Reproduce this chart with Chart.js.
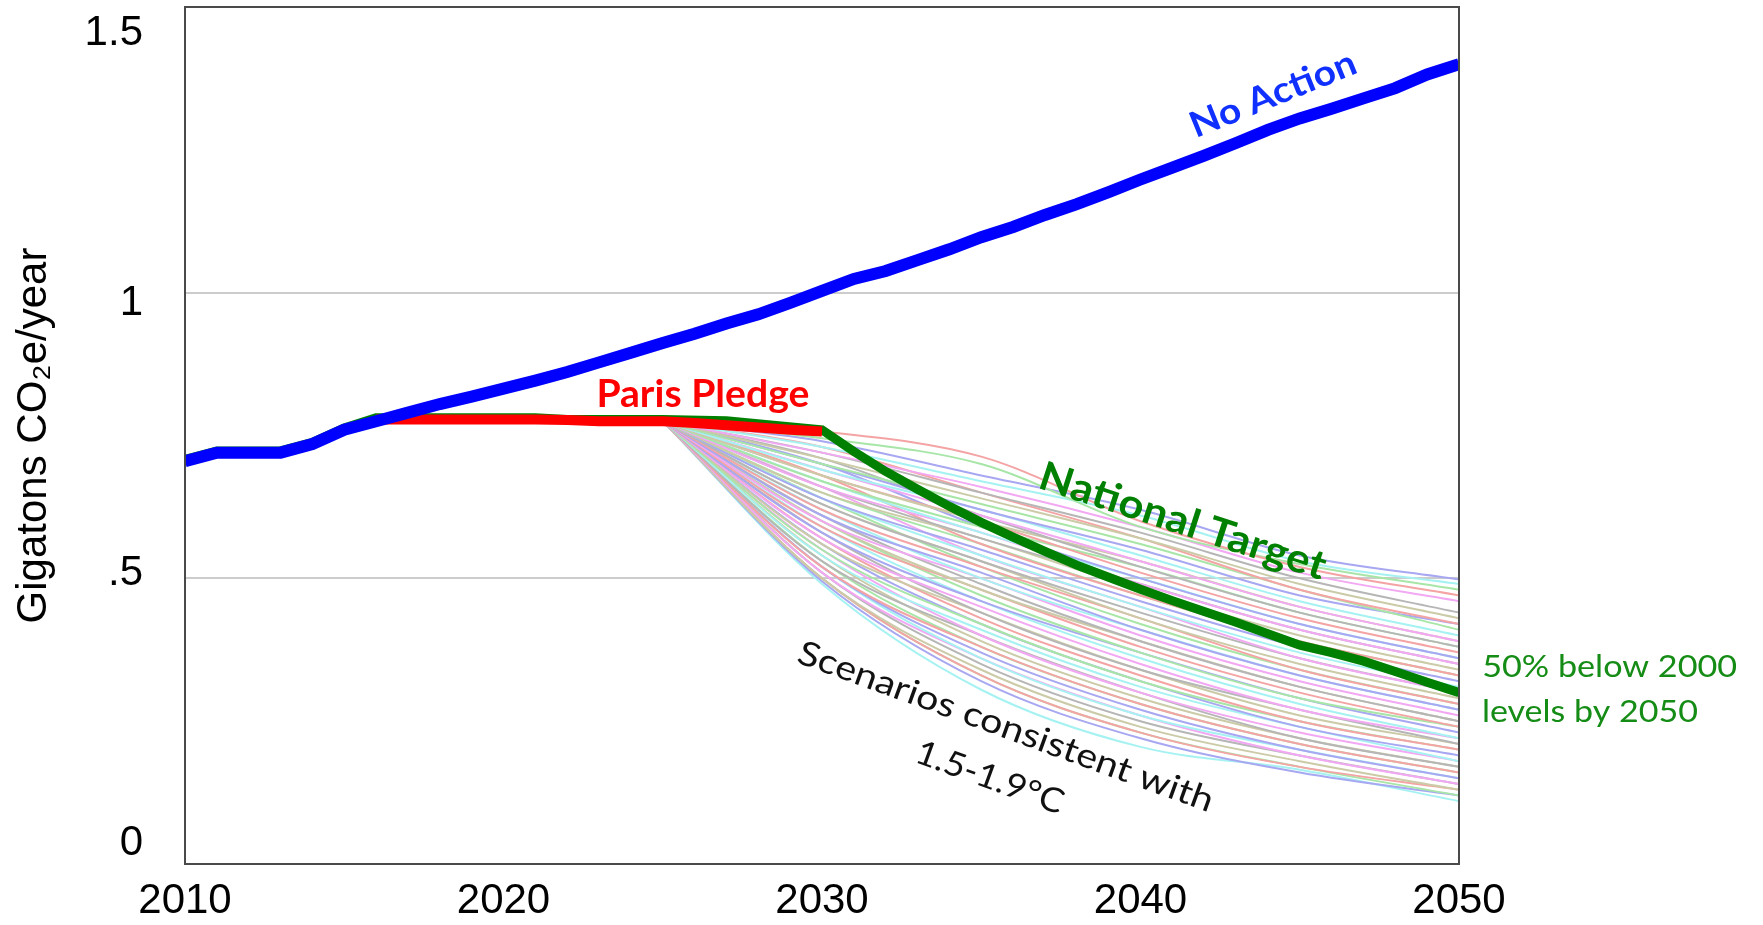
<!DOCTYPE html>
<html>
<head>
<meta charset="utf-8">
<script src="https://cdn.jsdelivr.net/npm/chart.js@4.4.1/dist/chart.umd.min.js"></script>
<style>
  html, body { margin: 0; padding: 0; background: #fff; }
  #chart { display: block; }
</style>
</head>
<body>
<canvas id="chart" width="1763" height="925"></canvas>
<script>
// values (Gt CO2e / year)
const years = [2010, 2011, 2012, 2013, 2014, 2015, 2016, 2017, 2018, 2019,
  2020, 2021, 2022, 2023, 2024, 2025, 2026, 2027, 2028, 2029,
  2030, 2031, 2032, 2033, 2034, 2035, 2036, 2037, 2038, 2039,
  2040, 2041, 2042, 2043, 2044, 2045, 2046, 2047, 2048, 2049, 2050];
const noAction = [0.705, 0.720, 0.720, 0.720, 0.735, 0.760, 0.775, 0.790, 0.805, 0.818,
  0.832, 0.846, 0.861, 0.878, 0.895, 0.912, 0.928, 0.946, 0.962, 0.982,
  1.003, 1.024, 1.038, 1.057, 1.076, 1.097, 1.115, 1.136, 1.155, 1.176,
  1.198, 1.219, 1.240, 1.262, 1.285, 1.305, 1.322, 1.340, 1.358, 1.382, 1.400];

const pledgeYears = [2016, 2017, 2018, 2019, 2020, 2021, 2022, 2023, 2024, 2025, 2026, 2027, 2028, 2029, 2030];
const pledge = [0.778, 0.778, 0.778, 0.778, 0.778, 0.778, 0.777, 0.775, 0.775, 0.775, 0.772, 0.768, 0.764, 0.760, 0.757];

const targetYears = [2010, 2011, 2013, 2014, 2015, 2016, 2021, 2022, 2025, 2027, 2030,
  2031, 2032, 2033, 2034, 2035, 2036, 2037, 2038, 2039, 2040,
  2041, 2042, 2043, 2044, 2045, 2046, 2047, 2048, 2049, 2050];
const target = [0.708, 0.723, 0.723, 0.738, 0.763, 0.781, 0.781, 0.778, 0.778, 0.776, 0.760,
  0.722, 0.687, 0.656, 0.626, 0.598, 0.572, 0.547, 0.523, 0.502, 0.481,
  0.461, 0.442, 0.423, 0.403, 0.383, 0.370, 0.355, 0.337, 0.318, 0.300];

// 1.5-1.9°C scenario bundle
const scenarioYears = [2025, 2030, 2035, 2040, 2045, 2050];
const scenarios = [
  [0.775, 0.757, 0.713, 0.600, 0.520, 0.470],
  [0.775, 0.745, 0.700, 0.590, 0.525, 0.480],
  [0.775, 0.740, 0.680, 0.620, 0.540, 0.498],
  [0.775, 0.730, 0.670, 0.610, 0.530, 0.490],
  [0.775, 0.720, 0.660, 0.590, 0.510, 0.460],
  [0.775, 0.720, 0.650, 0.580, 0.500, 0.440],
  [0.775, 0.710, 0.640, 0.570, 0.490, 0.430],
  [0.775, 0.730, 0.650, 0.570, 0.480, 0.420],
  [0.775, 0.700, 0.630, 0.560, 0.480, 0.410],
  [0.775, 0.700, 0.620, 0.550, 0.470, 0.420],
  [0.775, 0.690, 0.620, 0.540, 0.460, 0.400],
  [0.775, 0.690, 0.610, 0.530, 0.450, 0.390],
  [0.775, 0.710, 0.610, 0.520, 0.440, 0.380],
  [0.775, 0.680, 0.600, 0.530, 0.450, 0.390],
  [0.775, 0.680, 0.600, 0.510, 0.430, 0.370],
  [0.775, 0.670, 0.590, 0.520, 0.440, 0.380],
  [0.775, 0.700, 0.590, 0.500, 0.420, 0.360],
  [0.775, 0.670, 0.580, 0.500, 0.420, 0.360],
  [0.775, 0.660, 0.580, 0.490, 0.410, 0.350],
  [0.775, 0.660, 0.570, 0.490, 0.410, 0.350],
  [0.775, 0.650, 0.570, 0.480, 0.400, 0.340],
  [0.775, 0.680, 0.560, 0.470, 0.390, 0.330],
  [0.775, 0.650, 0.560, 0.470, 0.390, 0.330],
  [0.775, 0.640, 0.550, 0.460, 0.380, 0.320],
  [0.775, 0.640, 0.540, 0.450, 0.370, 0.310],
  [0.775, 0.660, 0.540, 0.450, 0.360, 0.300],
  [0.775, 0.630, 0.530, 0.440, 0.360, 0.300],
  [0.775, 0.630, 0.530, 0.430, 0.350, 0.290],
  [0.775, 0.620, 0.520, 0.430, 0.340, 0.280],
  [0.775, 0.640, 0.520, 0.420, 0.340, 0.280],
  [0.775, 0.610, 0.510, 0.410, 0.330, 0.270],
  [0.775, 0.620, 0.500, 0.410, 0.330, 0.270],
  [0.775, 0.600, 0.500, 0.400, 0.320, 0.260],
  [0.775, 0.610, 0.490, 0.390, 0.310, 0.250],
  [0.775, 0.600, 0.480, 0.390, 0.310, 0.250],
  [0.775, 0.590, 0.480, 0.380, 0.300, 0.240],
  [0.775, 0.600, 0.470, 0.370, 0.290, 0.240],
  [0.775, 0.580, 0.460, 0.370, 0.290, 0.230],
  [0.775, 0.590, 0.460, 0.360, 0.280, 0.220],
  [0.775, 0.570, 0.450, 0.350, 0.270, 0.220],
  [0.775, 0.580, 0.440, 0.340, 0.270, 0.210],
  [0.775, 0.560, 0.440, 0.340, 0.260, 0.210],
  [0.775, 0.570, 0.430, 0.330, 0.250, 0.200],
  [0.775, 0.550, 0.420, 0.320, 0.250, 0.200],
  [0.775, 0.560, 0.420, 0.320, 0.240, 0.190],
  [0.775, 0.540, 0.410, 0.310, 0.240, 0.180],
  [0.775, 0.550, 0.400, 0.300, 0.230, 0.180],
  [0.775, 0.530, 0.400, 0.300, 0.220, 0.170],
  [0.775, 0.540, 0.390, 0.290, 0.220, 0.170],
  [0.775, 0.520, 0.380, 0.280, 0.210, 0.160],
  [0.775, 0.530, 0.380, 0.280, 0.210, 0.160],
  [0.775, 0.520, 0.370, 0.270, 0.200, 0.150],
  [0.775, 0.520, 0.360, 0.260, 0.200, 0.150],
  [0.775, 0.510, 0.360, 0.260, 0.190, 0.140],
  [0.775, 0.510, 0.350, 0.250, 0.190, 0.140],
  [0.775, 0.500, 0.340, 0.240, 0.180, 0.130],
  [0.775, 0.500, 0.330, 0.230, 0.170, 0.130],
  [0.775, 0.500, 0.330, 0.230, 0.170, 0.120],
  [0.775, 0.495, 0.320, 0.220, 0.160, 0.120],
  [0.775, 0.490, 0.305, 0.205, 0.165, 0.110]
];

const yTicks = [0, 0.5, 1, 1.5];
const xTicks = [2010, 2020, 2030, 2040, 2050];

const palette = ['#f4a4a4', '#a8e6a8', '#a8a8f2', '#a6f2f2', '#f2a8f2', '#b6b6b6', '#cbcba8'];
const axisFont = { family: '"Liberation Sans", Arial, sans-serif', size: 42 };

// text notes placed in data coordinates (baseline centre)
const notes = [
  { text: 'No Action', x: 2044.3, y: 1.328, angle: -22, width: 176, font: 'bold 36px Lato', color: '#1030ff' },
  { text: 'Paris Pledge', x: 2026.26, y: 0.800, angle: 0, width: 213, font: 'bold 38px Lato', color: '#ff0000' },
  { text: 'National Target', x: 2041.2, y: 0.578, angle: 18, width: 299, font: 'bold 40px Lato', color: '#008000' },
  { text: 'Scenarios consistent with', x: 2035.65, y: 0.222, angle: 20, width: 440, font: '34px Lato', color: '#111111' },
  { text: '1.5-1.9°C', x: 2035.15, y: 0.133, angle: 20, width: 155, font: '34px Lato', color: '#111111' },
  { text: '50% below 2000', x: 2054.73, y: 0.327, angle: 0, width: 255, font: '31px Lato', color: '#158c15' },
  { text: 'levels by 2050', x: 2054.11, y: 0.2485, angle: 0, width: 216, font: '31px Lato', color: '#158c15' }
];

const pts = (xs, ys) => xs.map((x, i) => ({ x: x, y: ys[i] }));

const datasets = [
  { data: pts(years, noAction), borderColor: '#0000ff', borderWidth: 12 },
  { data: pts(pledgeYears, pledge), borderColor: '#ff0000', borderWidth: 10 },
  { data: pts(targetYears, target), borderColor: '#008000', borderWidth: 9 }
];
scenarios.forEach((row, i) => {
  datasets.push({
    data: pts(scenarioYears, row),
    borderColor: palette[i % palette.length],
    borderWidth: 2,
    cubicInterpolationMode: 'monotone'
  });
});
datasets.forEach(d => { d.pointRadius = 0; d.clip = 0; });

const frameAndNotes = {
  id: 'frameAndNotes',
  afterDatasetsDraw(chart) {
    const { ctx, chartArea: a } = chart;
    ctx.save();
    ctx.strokeStyle = '#4a4a4a';
    ctx.lineWidth = 2;
    ctx.strokeRect(a.left, a.top, a.right - a.left, a.bottom - a.top);
    ctx.restore();
  },
  afterDraw(chart) {
    const { ctx, scales: { x, y } } = chart;
    notes.forEach(n => {
      ctx.save();
      ctx.translate(x.getPixelForValue(n.x), y.getPixelForValue(n.y));
      ctx.rotate(n.angle * Math.PI / 180);
      ctx.font = n.font;
      const w = ctx.measureText(n.text).width;
      ctx.scale(n.width / w, 1);
      ctx.fillStyle = n.color;
      ctx.textAlign = 'center';
      ctx.textBaseline = 'alphabetic';
      ctx.fillText(n.text, 0, 0);
      ctx.restore();
    });
  }
};

new Chart(document.getElementById('chart'), {
  type: 'line',
  data: { datasets: datasets },
  plugins: [frameAndNotes],
  options: {
    responsive: false,
    devicePixelRatio: 1,
    animation: false,
    layout: { padding: { top: 7, right: 304, bottom: 0, left: 0 } },
    plugins: { legend: { display: false }, tooltip: { enabled: false } },
    scales: {
      x: {
        type: 'linear',
        min: 2010,
        max: 2050,
        grid: { display: false, drawTicks: false },
        border: { display: false },
        afterBuildTicks: s => { s.ticks = xTicks.map(v => ({ value: v })); },
        afterFit: s => { s.height = 61; s.paddingLeft = 0; s.paddingRight = 0; },
        ticks: {
          color: '#000',
          font: axisFont,
          padding: 12,
          maxRotation: 0,
          callback: v => String(v)
        }
      },
      // gridlines only
      y: {
        position: 'left',
        weight: 0,
        min: 0,
        max: 1.5,
        afterBuildTicks: s => { s.ticks = yTicks.map(v => ({ value: v })); },
        afterFit: s => { s.width = 0; s.paddingTop = 0; s.paddingBottom = 0; },
        grid: { color: '#cccccc', lineWidth: 2, drawTicks: false },
        border: { display: false },
        ticks: { display: false }
      },
      // tick labels and title, spaced like the original (labels sit a bit off the gridlines)
      yLabels: {
        position: 'left',
        weight: 1,
        min: -0.03889,
        max: 1.54815,
        afterBuildTicks: s => { s.ticks = yTicks.map(v => ({ value: v })); },
        afterFit: s => { s.width = 185; s.paddingTop = 0; s.paddingBottom = 0; },
        grid: { display: false, drawTicks: false },
        border: { display: false },
        ticks: {
          color: '#000',
          font: axisFont,
          padding: 42,
          callback: v => String(v).replace(/^0\./, '.')
        },
        title: {
          display: true,
          text: 'Gigatons CO₂e/year',
          color: '#000',
          font: axisFont,
          padding: { top: 9, bottom: 0 }
        }
      }
    }
  }
});
</script>
</body>
</html>
